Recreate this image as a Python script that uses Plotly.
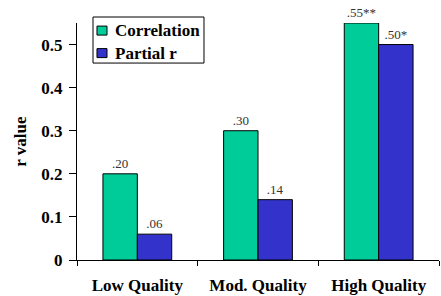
import plotly.graph_objects as go

categories = ["Low Quality", "Mod. Quality", "High Quality"]
correlation = [0.20, 0.30, 0.55]
partial_r = [0.06, 0.14, 0.50]
corr_labels = [".20", ".30", ".55**"]
partial_labels = [".06", ".14", ".50*"]
series_names = ["Correlation", "Partial r"]
series_colors = ["#00CC99", "#3333CC"]
y_ticks = [0, 0.1, 0.2, 0.3, 0.4, 0.5]
y_tick_text = ["0", "0.1", "0.2", "0.3", "0.4", "0.5"]

serif = "Liberation Serif"
bold = dict(family=serif, size=17, color="black", weight="bold")

fig = go.Figure()
for name, vals, labels, col in zip(series_names, [correlation, partial_r],
                                   [corr_labels, partial_labels], series_colors):
    fig.add_trace(go.Bar(
        name=name, x=categories, y=vals,
        marker=dict(color=col, line=dict(color="black", width=1)),
        text=labels, textposition="outside", cliponaxis=False,
        textfont=dict(family=serif, size=13, color="#333", weight="normal"),
    ))

# compact legend drawn as box + swatches + labels (paper coords)
shapes = [dict(type="rect", xref="paper", yref="paper", x0=0.0442, x1=0.3508,
               y0=0.831, y1=1.0253, line=dict(color="black", width=1), fillcolor="white", layer="above")]
annotations = []
for i, (name, col) in enumerate(zip(series_names, series_colors)):
    yc = 0.968 - i * 0.095
    shapes.append(dict(type="rect", xref="paper", yref="paper", x0=0.0552, x1=0.0829,
                       y0=yc - 0.019, y1=yc + 0.019, line=dict(color="black", width=1),
                       fillcolor=col, layer="above"))
    annotations.append(dict(text=name, xref="paper", yref="paper", x=0.0994, y=yc,
                            xanchor="left", yanchor="middle", showarrow=False, font=bold))

annotations.append(dict(text="r value", xref="paper", yref="paper", x=-0.157, y=0.5,
                        xanchor="center", yanchor="middle", textangle=-90,
                        showarrow=False, font=bold))

fig.update_layout(
    width=441, height=296,
    margin=dict(l=77, r=2, t=23, b=36, autoexpand=False),
    paper_bgcolor="white", plot_bgcolor="white",
    barmode="group", bargap=0.43, bargroupgap=0,
    font=bold,
    showlegend=False,
    shapes=shapes, annotations=annotations,
    xaxis=dict(
        showline=True, linecolor="black", linewidth=1,
        ticks="outside", tickson="boundaries", ticklen=5, tickcolor="black",
        showgrid=False, automargin=False, ticklabelstandoff=10,
        tickfont=bold,
    ),
    yaxis=dict(
        range=[0, 0.55], showline=True, linecolor="black", linewidth=1,
        ticks="outside", ticklen=7, tickcolor="black", showgrid=False, zeroline=False,
        tickvals=y_ticks, ticktext=y_tick_text, automargin=False, ticklabelstandoff=3,
        tickfont=bold,
    ),
)

fig.write_html("out.html", config={"displayModeBar": False},
               post_script="document.body.style.margin='0';")
